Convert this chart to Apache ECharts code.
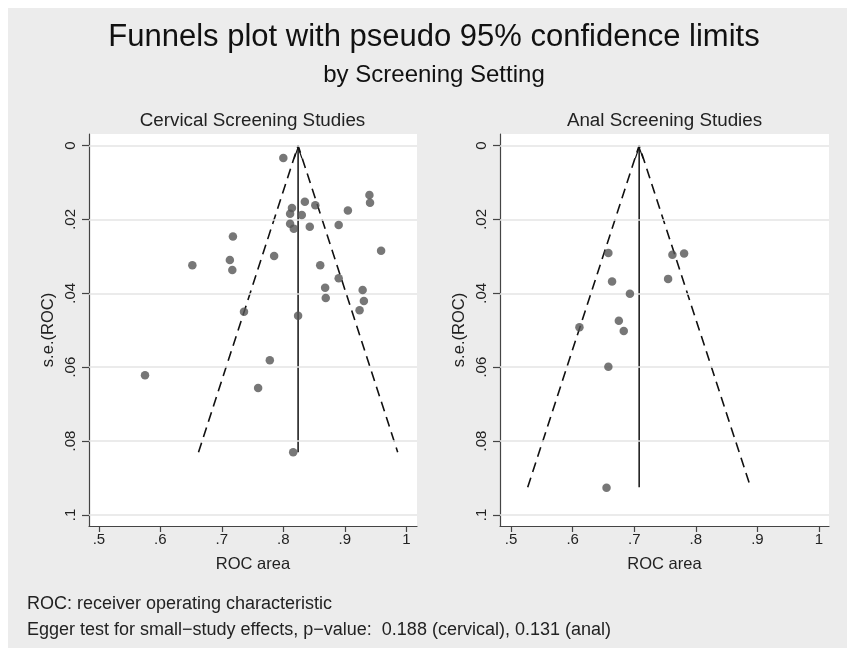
<!DOCTYPE html>
<html>
<head>
<meta charset="utf-8">
<style>html,body{margin:0;padding:0;background:#fff;}#c{width:847px;height:648px;}</style>
<script src="https://cdn.jsdelivr.net/npm/echarts@6/dist/echarts.min.js"></script>
</head>
<body>
<div id="c"></div>
<script>
// ---- data ----
const cervicalROC = [0.800,0.940,0.941,0.835,0.852,0.814,0.905,0.811,0.830,0.811,0.817,0.843,0.890,0.718,0.959,0.785,0.652,0.713,0.717,0.860,0.890,0.868,0.929,0.869,0.931,0.736,0.924,0.824,0.778,0.575,0.759,0.816];
const cervicalSE  = [0.0034,0.0134,0.0155,0.0152,0.0162,0.0169,0.0176,0.0185,0.0188,0.0212,0.0225,0.0220,0.0215,0.0246,0.0285,0.0299,0.0324,0.0310,0.0337,0.0324,0.0359,0.0385,0.0391,0.0413,0.0421,0.0450,0.0446,0.0461,0.0581,0.0622,0.0656,0.0830];
const analROC = [0.658,0.762,0.781,0.664,0.755,0.693,0.675,0.683,0.611,0.658,0.655];
const analSE  = [0.0291,0.0296,0.0292,0.0368,0.0361,0.0401,0.0474,0.0502,0.0492,0.0599,0.0926];
// pooled estimate and funnel ends (lower x, upper x, bottom s.e.)
const cervicalPooled = 0.824, cervicalFunnelLow = 0.662, cervicalFunnelHigh = 0.986, cervicalFunnelSE = 0.083;
const analPooled = 0.708, analFunnelLow = 0.527, analFunnelHigh = 0.889, analFunnelSE = 0.0925;
const xTicks = [0.5,0.6,0.7,0.8,0.9,1];
const yTicks = [0,0.02,0.04,0.06,0.08,0.1];
const panelTitles = ['Cervical Screening Studies','Anal Screening Studies'];

const fmt = v => { v = +v; if (v === 0) return '0'; if (v === 1) return '1'; return String(+v.toFixed(3)).replace(/^0/, ''); };
const FONT = 'Liberation Sans, Arial, Helvetica, sans-serif';

const chart = echarts.init(document.getElementById('c'), null, {renderer:'canvas'});

function xAxis(gi, min, max){
  return {
    type:'value', gridIndex:gi, min:min, max:max,
    name:'ROC area', nameLocation:'middle', nameGap:30,
    nameTextStyle:{fontFamily:FONT, fontSize:16.5, color:'#222'},
    axisLine:{show:true, onZero:false, lineStyle:{color:'#444', width:1.2}},
    axisTick:{show:true, length:6, customValues:xTicks, lineStyle:{color:'#444', width:1.2}},
    axisLabel:{customValues:xTicks, formatter:fmt, margin:6, fontFamily:FONT, fontSize:15, color:'#222'},
    splitLine:{show:false}
  };
}
function yAxis(gi){
  return {
    type:'value', gridIndex:gi, inverse:true, min:-0.00311, max:0.10298,
    name:'s.e.(ROC)', nameLocation:'middle', nameGap:32, nameRotate:90,
    nameTextStyle:{fontFamily:FONT, fontSize:16.5, color:'#222'},
    axisLine:{show:true, onZero:false, lineStyle:{color:'#444', width:1.2}},
    axisTick:{show:true, length:7, customValues:yTicks, lineStyle:{color:'#444', width:1.2}},
    axisLabel:{customValues:yTicks, formatter:fmt, rotate:90, margin:11, fontFamily:FONT, fontSize:15, color:'#222'},
    splitLine:{show:false}
  };
}
const ARROW = 'path://M0,11 L4,0 L8,11 L6.9,11 L4,3 L1.1,11 Z';
function panelSeries(gi, rocs, ses, pooled, lo, hi, seMax){
  return [
    {type:'line', xAxisIndex:gi, yAxisIndex:gi, data:[], silent:true, z:1,
     markLine:{silent:true, symbol:'none', label:{show:false}, animation:false,
       lineStyle:{color:'#e4e4e4', width:1.5, type:'solid'},
       data:yTicks.map(v=>({yAxis:v}))}},
    {type:'line', xAxisIndex:gi, yAxisIndex:gi, z:3, silent:true, animation:false,
     showSymbol:false, symbol:'none',
     lineStyle:{color:'#111', width:1.6, type:[10,6]},
     data:[[lo, seMax],[pooled, 0],[hi, seMax]]},
    {type:'line', xAxisIndex:gi, yAxisIndex:gi, z:4, silent:true, animation:false,
     showSymbol:true, showAllSymbol:true,
     lineStyle:{color:'#111', width:1.5},
     itemStyle:{color:'#111', borderWidth:0},
     data:[{value:[pooled, seMax], symbol:'none'},
           {value:[pooled, 0], symbol:ARROW, symbolSize:[9,13], symbolOffset:[0,6.5], symbolKeepAspect:false}]},
    {type:'scatter', xAxisIndex:gi, yAxisIndex:gi, z:5, animation:false,
     symbolSize:8.5, itemStyle:{color:'#555555'},
     data:rocs.map((r,i)=>[r, ses[i]])}
  ];
}

const option = {
  animation:false,
  backgroundColor:'#ffffff',
  graphic:[
    {type:'rect', z:-10, shape:{x:8, y:8, width:839, height:640}, style:{fill:'#ececec'}, silent:true},
    {type:'text', x:434, y:37.5, style:{text:'Funnels plot with pseudo 95% confidence limits', font:'31px '+FONT, fill:'#111', textAlign:'center', textVerticalAlign:'middle'}},
    {type:'text', x:434, y:75, style:{text:'by Screening Setting', font:'24px '+FONT, fill:'#111', textAlign:'center', textVerticalAlign:'middle'}},
    {type:'text', x:252.5, y:121, style:{text:panelTitles[0], font:'18.8px '+FONT, fill:'#222', textAlign:'center', textVerticalAlign:'middle'}},
    {type:'text', x:664.5, y:121, style:{text:panelTitles[1], font:'18.8px '+FONT, fill:'#222', textAlign:'center', textVerticalAlign:'middle'}},
    {type:'text', x:27, y:604.5, style:{text:'ROC: receiver operating characteristic', font:'18px '+FONT, fill:'#222', textAlign:'left', textVerticalAlign:'middle'}},
    {type:'text', x:27, y:630.5, style:{text:'Egger test for small\u2212study effects, p\u2212value:  0.188 (cervical), 0.131 (anal)', font:'18px '+FONT, fill:'#222', textAlign:'left', textVerticalAlign:'middle'}}
  ],
  grid:[
    {left:89, top:134, width:328, height:392, show:true, backgroundColor:'#ffffff', borderWidth:0, containLabel:false},
    {left:500, top:134, width:329, height:392, show:true, backgroundColor:'#ffffff', borderWidth:0, containLabel:false}
  ],
  xAxis:[xAxis(0, 0.4839, 1.0174), xAxis(1, 0.482, 1.0163)],
  yAxis:[yAxis(0), yAxis(1)],
  series:[].concat(
    panelSeries(0, cervicalROC, cervicalSE, cervicalPooled, cervicalFunnelLow, cervicalFunnelHigh, cervicalFunnelSE),
    panelSeries(1, analROC, analSE, analPooled, analFunnelLow, analFunnelHigh, analFunnelSE)
  )
};
chart.setOption(option);
</script>
</body>
</html>
